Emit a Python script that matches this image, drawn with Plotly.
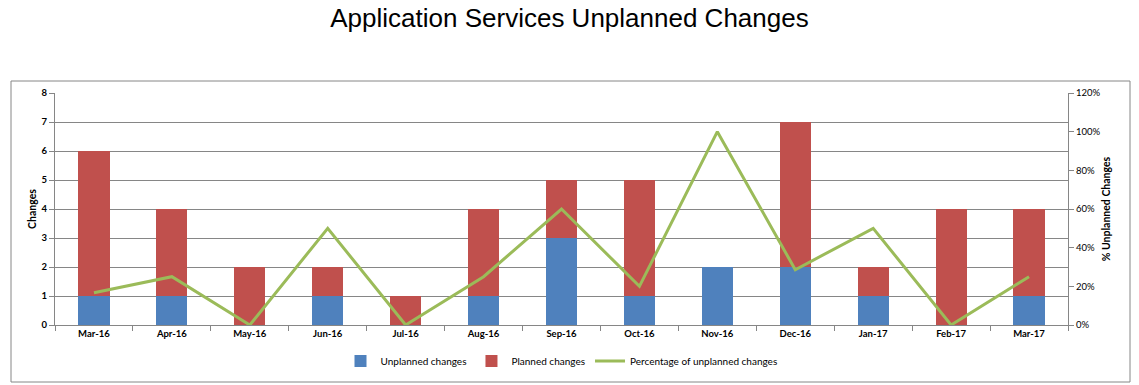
import plotly.graph_objects as go

months = ["Mar-16", "Apr-16", "May-16", "Jun-16", "Jul-16", "Aug-16", "Sep-16",
          "Oct-16", "Nov-16", "Dec-16", "Jan-17", "Feb-17", "Mar-17"]
unplanned = [1, 1, 0, 1, 0, 1, 3, 1, 2, 2, 1, 0, 1]
planned = [5, 3, 2, 1, 1, 3, 2, 4, 0, 5, 1, 4, 3]
pct_unplanned = [0.167, 0.25, 0.0, 0.5, 0.0, 0.25, 0.6, 0.2, 1.0, 0.286, 0.5, 0.0, 0.25]

W, H = 1139, 385
L, R, T, B = 55, 1068, 93, 325
pw, ph = R - L, B - T

def px(x):
    return (x - L) / pw

def py(y):
    return (B - y) / ph

tickfont = dict(family="Lato, Open Sans, sans-serif", size=9.5, color="#000", weight="bold")

fig = go.Figure()
fig.add_trace(go.Bar(x=months, y=unplanned, name="Unplanned changes",
                     marker=dict(color="#4F81BD", line=dict(width=0))))
fig.add_trace(go.Bar(x=months, y=planned, name="Planned changes",
                     marker=dict(color="#C0504D", line=dict(width=0))))
fig.add_trace(go.Scatter(x=months, y=pct_unplanned, name="Percentage of unplanned changes",
                         mode="lines", line=dict(color="#9BBB59", width=3), yaxis="y2"))

fig.update_layout(
    width=W, height=H,
    margin=dict(l=L, r=W - R, t=T, b=H - B, autoexpand=False),
    paper_bgcolor="white", plot_bgcolor="white",
    barmode="stack", bargap=0.6,
    title=dict(text="Application Services Unplanned Changes", x=0.5, xanchor="center",
               y=1 - 18 / H, yanchor="middle",
               font=dict(family="Liberation Sans, Arial, sans-serif", size=26, color="#000")),
    xaxis=dict(type="category", showgrid=False, showline=True, linecolor="#868686",
               ticks="outside", tickson="boundaries", ticklen=5, tickcolor="#868686",
               tickfont=tickfont),
    yaxis=dict(range=[0, 8], dtick=1, showgrid=True, gridcolor="#868686", gridwidth=1,
               showline=True, linecolor="#868686", ticks="outside", ticklen=5,
               tickcolor="#868686", tickfont=tickfont, zeroline=False,
               title=dict(text="Changes", standoff=2,
                          font=dict(family="Lato, Open Sans, sans-serif", size=10.5,
                                    color="#000", weight="bold"))),
    yaxis2=dict(range=[0, 1.2], dtick=0.2, tickformat=".0%", overlaying="y", side="right",
                showgrid=False, showline=True, linecolor="#868686", ticks="outside",
                ticklen=5, tickcolor="#868686",
                tickfont=dict(family="Lato, Open Sans, sans-serif", size=9.5, color="#000"),
                zeroline=False,
                title=dict(text="% Unplanned Changes", standoff=3,
                           font=dict(family="Lato, Open Sans, sans-serif", size=10.5,
                                     color="#000", weight="bold"))),
    legend=dict(orientation="h", x=0.5, xanchor="center", y=py(361), yanchor="middle",
                font=dict(family="Lato, Open Sans, sans-serif", size=10, color="#000"),
                itemwidth=30, traceorder="normal", bgcolor="rgba(0,0,0,0)"),
    showlegend=True,
)

fig.add_shape(type="rect", xref="paper", yref="paper",
              x0=px(11), x1=px(1130), y0=py(382), y1=py(81),
              line=dict(color="#868686", width=1), fillcolor="rgba(0,0,0,0)", layer="below")

fig.write_html("out.html", config={"displayModeBar": False},
               post_script="document.body.style.margin='0';document.body.style.overflow='hidden';")
